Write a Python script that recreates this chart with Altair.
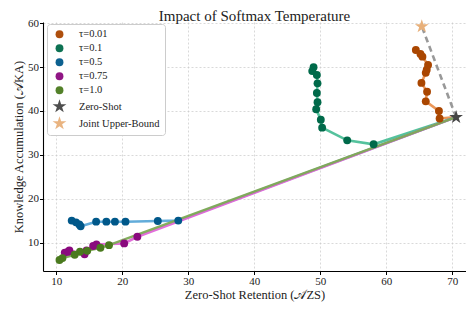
import altair as alt
import pandas as pd

# ---------------- data ----------------
zero_shot = (70.6, 38.6)
upper_bound = (65.4, 59.3)

tau001_x = [68.1, 68.0, 66.0, 66.2, 65.35, 66.0, 66.15, 66.35, 65.5, 65.2, 64.5]
tau001_y = [38.3, 40.0, 42.2, 44.4, 46.4, 48.7, 49.4, 50.5, 52.4, 53.0, 53.9]

tau01_x = [58.1, 54.1, 50.3, 50.1, 49.4, 49.6, 49.5, 49.6, 49.5, 48.8, 49.0]
tau01_y = [32.4, 33.3, 36.2, 38.0, 40.4, 42.0, 44.1, 46.3, 48.2, 49.1, 50.0]

tau05_x = [28.5, 25.4, 20.5, 18.9, 17.6, 16.05, 13.7, 13.5, 13.0, 12.35]
tau05_y = [15.0, 14.9, 14.75, 14.75, 14.75, 14.75, 13.7, 14.1, 14.6, 15.0]

tau075_x = [22.3, 20.3, 16.1, 15.6, 14.6, 14.3, 12.0, 11.8, 11.3]
tau075_y = [11.3, 9.8, 9.55, 9.2, 8.2, 7.3, 8.2, 7.9, 7.7]

tau10_x = [18.0, 16.7, 14.7, 13.6, 12.8, 10.95, 10.5]
tau10_y = [9.4, 8.8, 8.1, 7.9, 7.2, 6.45, 6.0]

labels = ["τ=0.01", "τ=0.1", "τ=0.5", "τ=0.75", "τ=1.0", "Zero-Shot", "Joint Upper-Bound"]
point_colors = ["#aa4600", "#006a4a", "#00588a", "#8a0a7e", "#4a7a1e", "#454545", "#e8b07a"]
line_colors = ["#ea9150", "#4cbf98", "#5aa8d8", "#e066d8", "#7daa55"]
x_ticks = [10, 20, 30, 40, 50, 60, 70]
y_ticks = [10, 20, 30, 40, 50, 60]

STAR = ("M0,-1L0.2245,-0.309L0.951,-0.309L0.363,0.118L0.588,0.809L0,0.382"
        "L-0.588,0.809L-0.363,0.118L-0.951,-0.309L-0.2245,-0.309Z")

series = [(tau001_x, tau001_y), (tau01_x, tau01_y), (tau05_x, tau05_y),
          (tau075_x, tau075_y), (tau10_x, tau10_y)]

pts, lines = [], []
for i, (xs, ys) in enumerate(series):
    lines.append(dict(s=labels[i], o=0, x=zero_shot[0], y=zero_shot[1], lc=line_colors[i]))
    for j, (xv, yv) in enumerate(zip(xs, ys)):
        pts.append(dict(s=labels[i], x=xv, y=yv, k=i))
        lines.append(dict(s=labels[i], o=j + 1, x=xv, y=yv, lc=line_colors[i]))
pts.append(dict(s=labels[6], x=upper_bound[0], y=upper_bound[1], k=6))
pts.append(dict(s=labels[5], x=zero_shot[0], y=zero_shot[1], k=7))
df_pts = pd.DataFrame(pts)
df_lines = pd.DataFrame(lines)
df_dash = pd.DataFrame([dict(x=zero_shot[0], y=zero_shot[1], o=0),
                        dict(x=upper_bound[0], y=upper_bound[1], o=1)])

FONT = "Liberation Serif"
xscale = alt.Scale(domain=[8.0, 72.1], nice=False, zero=False)
yscale = alt.Scale(domain=[3.5, 60.3], nice=False, zero=False)
X = alt.X("x:Q", scale=xscale, axis=alt.Axis(values=x_ticks, title="Zero-Shot Retention (𝒜ZS)"))
Y = alt.Y("y:Q", scale=yscale, axis=alt.Axis(values=y_ticks, title="Knowledge Accumulation (𝒜KA)"))

line_layer = alt.Chart(df_lines).mark_line(strokeWidth=2.6, opacity=0.95).encode(
    x=X, y=Y,
    detail="s:N",
    order="o:Q",
    color=alt.Color("lc:N", scale=None),
)

dash_layer = alt.Chart(df_dash).mark_line(strokeWidth=2.6, strokeDash=[6, 4], color="#999999").encode(
    x=X, y=Y, order="o:Q"
)

leg = alt.Legend(orient="none", legendX=4, legendY=2, title=None,
                 fillColor="white", strokeColor="#cccccc", padding=5, cornerRadius=3,
                 labelFont=FONT, labelFontSize=10.5, labelColor="#222222",
                 rowPadding=3, labelOffset=12, symbolStrokeWidth=0, symbolOpacity=1)

point_layer = alt.Chart(df_pts).mark_point(filled=True, opacity=1, strokeWidth=0).encode(
    x=X, y=Y,
    order="k:Q",
    color=alt.Color("s:N", scale=alt.Scale(domain=labels, range=point_colors), sort=labels, legend=leg),
    shape=alt.Shape("s:N", scale=alt.Scale(domain=labels, range=["circle"] * 5 + [STAR, STAR]), sort=labels, legend=leg),
    size=alt.Size("s:N", scale=alt.Scale(type="ordinal", domain=labels, range=[62] * 5 + [210, 210]), sort=labels, legend=leg),
)

chart = alt.layer(line_layer, dash_layer, point_layer).properties(
    width=423, height=249,
    title=alt.TitleParams("Impact of Softmax Temperature", font=FONT, fontSize=15,
                          fontWeight="normal", color="#222222", offset=-7),
    autosize=alt.AutoSizeParams(type="none"),
    padding={"left": 35, "top": 14, "right": 0, "bottom": 31},
).configure_view(stroke=None).configure_axis(
    labelFont=FONT, labelFontSize=11, labelColor="#222222",
    titleFont=FONT, titleFontSize=12.5, titleFontWeight="normal", titleColor="#222222",
    domainColor="#000000", domainWidth=1.1, tickColor="#000000", tickSize=3.5,
    gridColor="#c8c8c8", gridDash=[2, 2], gridWidth=0.7, labelPadding=1,
).configure_axisX(titlePadding=2).configure_axisY(titlePadding=2)

chart.save("out.html", embed_options={"renderer": "svg", "actions": False})
